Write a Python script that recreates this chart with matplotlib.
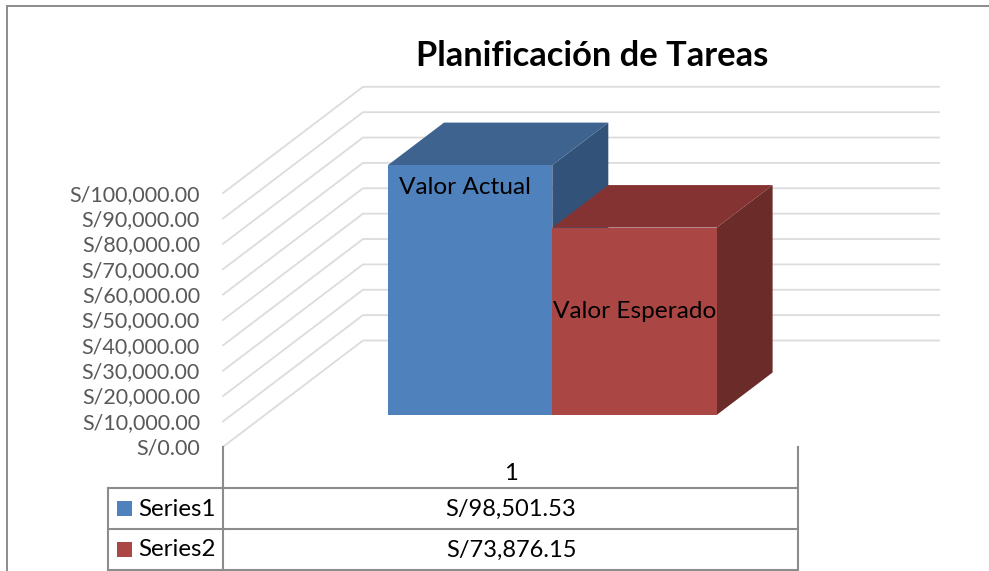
import matplotlib
matplotlib.use('Agg')
import matplotlib.pyplot as plt
from matplotlib.patches import Polygon, Rectangle

title = 'Planificación de Tareas'
category = '1'
series_names = ['Series1', 'Series2']
series_values = [98501.53, 73876.15]
bar_labels = ['Valor Actual', 'Valor Esperado']
ticks = [0, 10000, 20000, 30000, 40000, 50000, 60000, 70000, 80000, 90000, 100000]

front_colors = ['#4f81bd', '#aa4643']
top_colors = ['#3e638f', '#843332']
side_colors = ['#325279', '#6b2c29']

plt.rcParams['font.family'] = ['Lato', 'DejaVu Sans']

fig = plt.figure(figsize=(9.89, 5.71), dpi=100)
ax = fig.add_axes([0, 0, 1, 1])
ax.set_xlim(0, 989)
ax.set_ylim(571, 0)
ax.axis('off')

# pixels per unit of money, taken from the axis
scale = 253.7 / 100000
dx_wall, dy_wall = 140, -106.3
dx_bar, dy_bar = 56, -42.5


def front_y(v):
    return 446.8 - v * scale


def bar_y(v):
    return 415 - v * scale


# frame
ax.plot([7, 7], [571, 6], color='#8c8c8c', lw=1.4)
ax.plot([7, 989], [6, 6], color='#8c8c8c', lw=1.4)

# walls and axis labels
for t in ticks:
    y = front_y(t)
    ax.plot([223, 223 + dx_wall, 939], [y, y + dy_wall, y + dy_wall],
            color='#dcdcdc', lw=1.3, solid_joinstyle='miter', zorder=1)
    ax.text(200, y + 1.5, f'S/{t:,.2f}', ha='right', va='center',
            fontsize=15.5, color='#595959')

# bars
x_left = 388
bar_w = 164.3
for i, v in enumerate(series_values):
    x0 = x_left + i * bar_w
    x1 = x0 + bar_w
    top = bar_y(v)
    ax.add_patch(Polygon([(x1, top), (x1 + dx_bar, top + dy_bar),
                          (x1 + dx_bar, 415 + dy_bar), (x1, 415)],
                         fc=side_colors[i], ec='none', zorder=2 + i))
    ax.add_patch(Polygon([(x0, top), (x0 + dx_bar, top + dy_bar),
                          (x1 + dx_bar, top + dy_bar), (x1, top)],
                         fc=top_colors[i], ec='none', zorder=2 + i))
    ax.add_patch(Rectangle((x0, top), bar_w, 415 - top,
                           fc=front_colors[i], ec='none', zorder=2 + i))

ax.text(399, 187, bar_labels[0], ha='left', va='center', fontsize=17.6,
        color='black', zorder=5)
ax.text(553, 312, bar_labels[1], ha='left', va='center', fontsize=17.6,
        color='black', zorder=5)

ax.text(592.5, 56, title, ha='center', va='center', fontsize=24.8,
        fontweight='bold', color='black')

# data table
grid = '#8c8c8c'
ax.plot([223, 223], [447, 571], color=grid, lw=1.5, zorder=1)
ax.plot([798, 798], [447, 571], color=grid, lw=1.5, zorder=1)
ax.plot([108, 108], [488, 571], color=grid, lw=1.5, zorder=1)
for y in [488, 529, 570]:
    ax.plot([108, 798], [y, y], color=grid, lw=1.5, zorder=1)

ax.text(511, 474, category, ha='center', va='center', fontsize=17.2, color='black')
for i, name in enumerate(series_names):
    y = 508 + i * 41
    ax.add_patch(Rectangle((117, y - 7.5), 15, 15, fc=front_colors[i], ec='none'))
    ax.text(138, y + 1, name, ha='left', va='center', fontsize=17.4, color='black')
    ax.text(511, y + 1, f'S/{series_values[i]:,.2f}', ha='center', va='center',
            fontsize=17, color='black')

fig.savefig('out.png', dpi=100)
